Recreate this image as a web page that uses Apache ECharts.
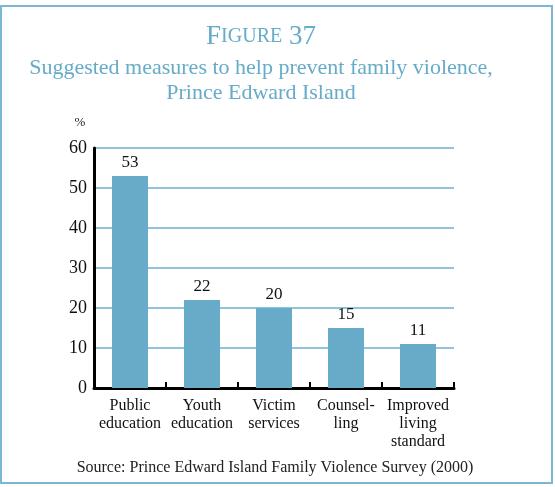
<!DOCTYPE html>
<html><head><meta charset="utf-8">
<script src="https://cdn.jsdelivr.net/npm/echarts@6/dist/echarts.min.js"></script>
<style>html,body{margin:0;padding:0;background:#fff}#c{width:555px;height:487px}</style>
</head><body><div id="c"></div>
<script>
const categories = ['Public\neducation','Youth\neducation','Victim\nservices','Counsel-\nling','Improved\nliving\nstandard'];
const values = [53, 22, 20, 15, 11];
const yTicks = [0, 10, 20, 30, 40, 50, 60];
const titleText = 'FIGURE 37';
const subtitleLines = ['Suggested measures to help prevent family violence,', 'Prince Edward Island'];
const sourceText = 'Source: Prince Edward Island Family Violence Survey (2000)';
const unitText = '%';

const serif = '"Liberation Serif", "DejaVu Serif", serif';
const blue = '#66abc9';
const chart = echarts.init(document.getElementById('c'), null, {renderer:'canvas'});
chart.setOption({
  animation:false,
  backgroundColor:'#fff',
  graphic:[
    {type:'rect', shape:{x:1,y:6,width:551,height:477}, style:{fill:'none', stroke:'#7bb7d2', lineWidth:2}},
    {type:'text', x:261, y:50, style:{
      text:'{b|' + titleText[0] + '}{s|' + titleText.slice(1, 6) + '}{b|' + titleText.slice(6) + '}',
      align:'center', verticalAlign:'bottom',
      rich:{b:{fontFamily:serif, fontSize:27, fill:blue}, s:{fontFamily:serif, fontSize:20, fill:blue}}
    }},
    {type:'text', x:261, y:68, style:{text:subtitleLines[0], fontFamily:serif, fontSize:22, fill:blue, align:'center', verticalAlign:'middle'}},
    {type:'text', x:261, y:93, style:{text:subtitleLines[1], fontFamily:serif, fontSize:22, fill:blue, align:'center', verticalAlign:'middle'}},
    {type:'text', x:275, y:468, style:{text:sourceText, fontFamily:serif, fontSize:16, fill:'#222', align:'center', verticalAlign:'middle'}},
    {type:'text', x:80, y:123, style:{text:unitText, fontFamily:serif, fontSize:13, fill:'#222', align:'center', verticalAlign:'middle'}}
  ],
  grid:{left:94, right:101, top:148, bottom:99},
  xAxis:{type:'category', data:categories,
    axisLine:{lineStyle:{color:'#000', width:3}},
    axisTick:{show:true, inside:true, length:6, lineStyle:{color:'#000', width:2}},
    axisLabel:{fontFamily:serif, fontSize:16, color:'#111', lineHeight:18, margin:9, interval:0}
  },
  yAxis:{type:'value', min:0, max:60, interval:10,
    axisLine:{show:true, lineStyle:{color:'#000', width:3}},
    axisTick:{show:false},
    axisLabel:{fontFamily:serif, fontSize:18, color:'#111', margin:7, formatter:v => yTicks.includes(v) ? String(v) : ''},
    splitLine:{lineStyle:{color:'#8ec4dc', width:2}}
  },
  series:[{type:'bar', data:values, barWidth:'50%', itemStyle:{color:'#68abc8'},
    label:{show:true, position:'top', distance:5, fontFamily:serif, fontSize:17, color:'#111'}}]
});
</script></body></html>
